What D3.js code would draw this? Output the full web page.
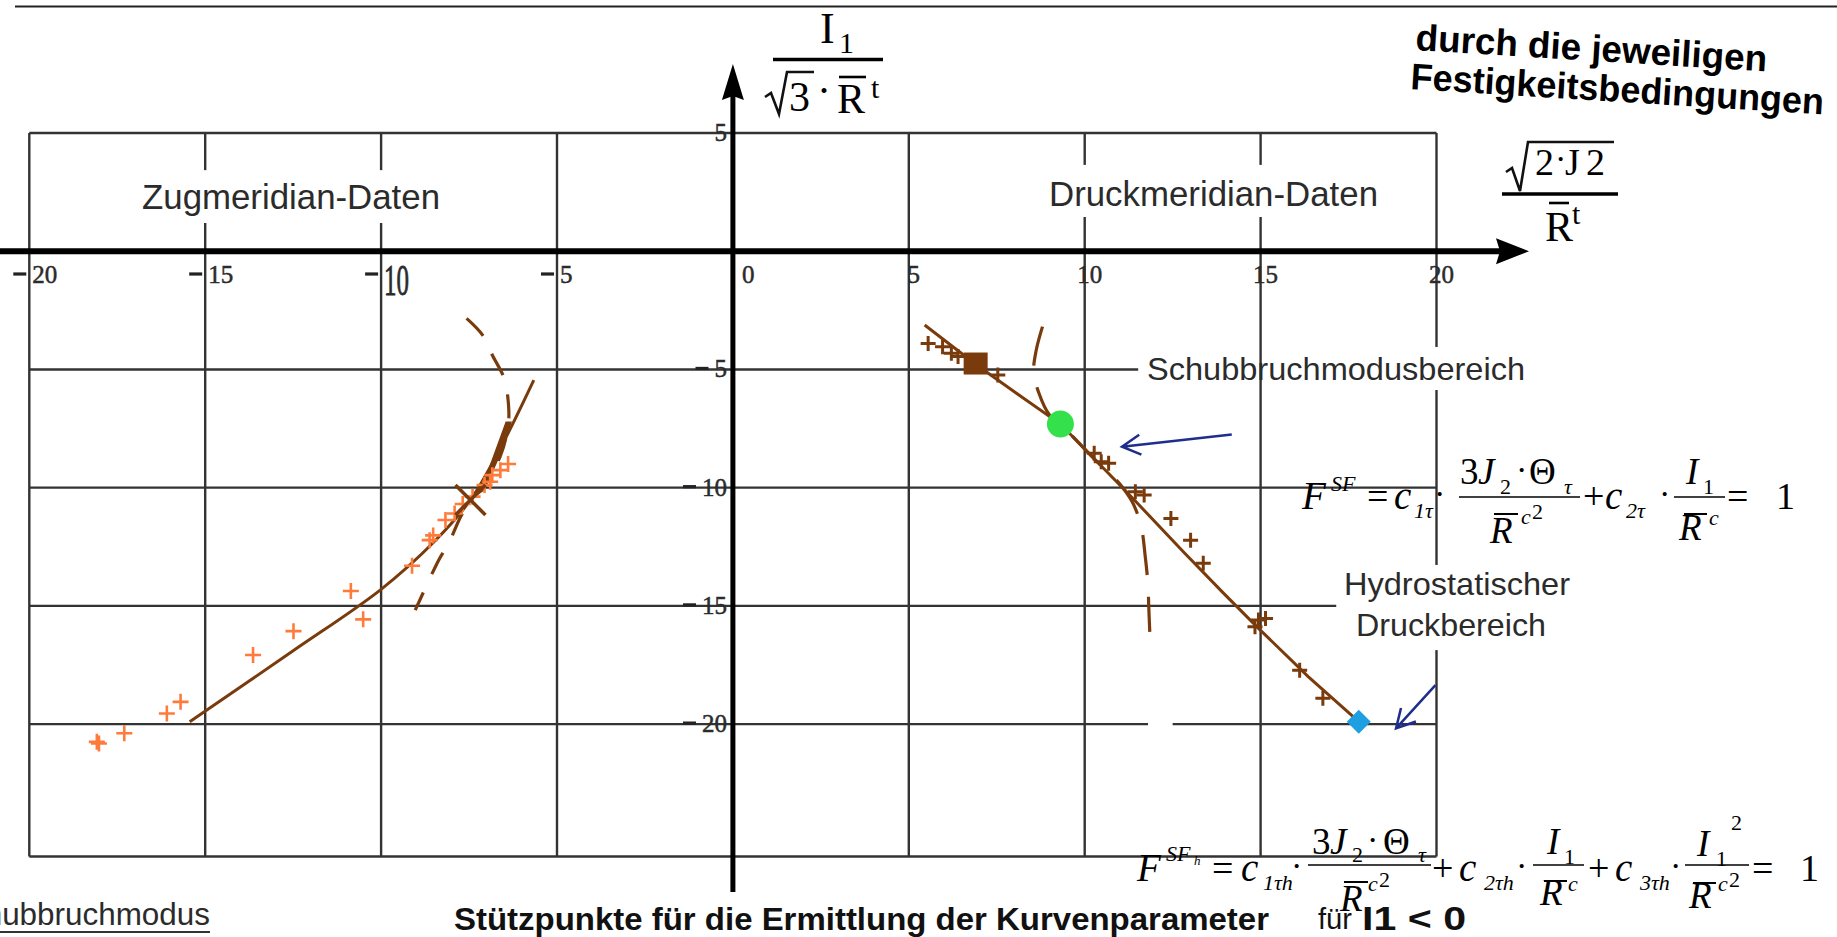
<!DOCTYPE html>
<html><head><meta charset="utf-8">
<script src="https://cdn.jsdelivr.net/npm/d3@7"></script>
<style>
body{margin:0;background:#fff}
svg{display:block}
text{fill:#2b2b2b}
</style>
</head><body>
<svg id="chart" width="1837" height="937"></svg>
<script>
// ---- axis ticks ----
const xTicks = [-20, -15, -10, -5, 0, 5, 10, 15, 20];
const yTicks = [5, -5, -10, -15, -20];
const yBottom = -25.6;

// ---- Zugmeridian (tension meridian) ----
const zugPoints = [
  [-18.08,-20.75],[-18.02,-20.82],[-17.30,-20.39],[-16.09,-19.55],[-15.70,-19.06],
  [-13.64,-17.08],[-12.49,-16.07],[-10.51,-15.57],[-10.86,-14.37],[-9.12,-13.30],
  [-8.62,-12.22],[-8.52,-12.02],[-8.17,-11.37],[-7.91,-11.09],[-7.68,-10.69],
  [-7.40,-10.38],[-7.06,-9.89],[-6.90,-9.75],[-6.84,-9.47],[-6.61,-9.26],[-6.39,-9.00]
];
const zugCurve = [
  [-15.44,-19.9],[-12.5,-16.9],[-10.0,-14.3],[-8.5,-12.3],[-7.46,-10.52],[-6.6,-8.3],[-5.66,-5.45]
];
const zugBoundary = [
  [-7.57,-2.84],[-7.12,-3.54],[-6.84,-4.39],[-6.50,-5.38],[-6.40,-6.15],[-6.38,-7.28],
  [-6.62,-8.70],[-7.05,-9.80],[-7.46,-10.52],[-7.74,-11.23],[-8.08,-12.36],[-8.36,-13.06],[-9.03,-15.18]
];
const zugWedge = [[-6.28,-7.2],[-6.46,-7.2],[-6.95,-9.2],[-7.32,-10.4],[-7.05,-10.1],[-6.6,-8.6]];
const zugCross = [[-7.46,-10.52]];

// ---- Druckmeridian (compression meridian) ----
const druckPoints = [
  [5.55,-3.90],[5.96,-4.04],[6.21,-4.32],[6.40,-4.45],[7.53,-5.24],[10.27,-8.55],
  [10.47,-8.90],[10.68,-8.97],[11.44,-10.17],[11.69,-10.31],[12.45,-11.30],[13.01,-12.22],
  [13.37,-13.20],[14.84,-15.88],[14.94,-15.60],[15.14,-15.53],[16.11,-17.72],[16.77,-18.91]
];
const druckCurve = [
  [5.45,-3.12],[6.9,-4.78],[8.1,-6.05],[9.31,-7.31],[10.27,-8.78],[11.29,-10.33],
  [12.81,-12.72],[13.93,-14.44],[14.94,-15.95],[16.36,-18.0],[17.79,-19.9]
];
const druckBoundary = [
  [8.80,-3.19],[8.62,-4.2],[8.55,-5.10],[8.70,-6.01],[9.0,-6.93],[9.31,-7.31],[10.27,-8.78],
  [11.0,-9.85],[11.35,-10.6],[11.6,-11.6],[11.72,-12.9],[11.8,-14.12],[11.82,-15.0],[11.85,-16.1]
];
const druckSquare = [[6.9,-4.75]];
const shearPoint = [[9.31,-7.31]];     // Schubbruchmodusbereich
const hydroPoint = [[17.79,-19.9]];    // hydrostatischer Druckbereich

// annotation arrows: [from, to]
const arrows = [
  [[14.18,-7.75],[11.06,-8.27]],
  [[19.97,-18.35],[18.85,-20.18]]
];

// grid segments (gaps where labels sit)
const vGrid = [
  {x:-20, segs:[[5,yBottom]]},
  {x:-15, segs:[[5,3.43],[1.19,yBottom]]},
  {x:-10, segs:[[5,3.43],[1.19,yBottom]]},
  {x:-5,  segs:[[5,yBottom]]},
  {x:5,   segs:[[5,yBottom]]},
  {x:10,  segs:[[5,3.65],[1.45,yBottom]]},
  {x:15,  segs:[[5,3.65],[1.45,yBottom]]},
  {x:20,  segs:[[5,-4.05],[-5.87,-13.27],[-16.87,yBottom]]}
];
const hGrid = [
  {y:5,   segs:[[-20,20]]},
  {y:-5,  segs:[[-20,11.52]]},
  {y:-10, segs:[[-20,20]]},
  {y:-15, segs:[[-20,17.15]]},
  {y:-20, segs:[[-20,11.8],[12.5,20]]},
  {y:yBottom, segs:[[-20,20]]}
];

const BROWN = "#7a3b0c", ORANGE = "#ff7b3b", NAVY = "#1f2d8c";

const svg = d3.select("#chart");
const x = d3.scaleLinear().domain([-20, 20]).range([29.3, 1436.5]);
const y = d3.scaleLinear().domain([yBottom, 5]).range([856.5, 133]);

// top rule
svg.append("line").attr("x1",15).attr("x2",1837).attr("y1",6.5).attr("y2",6.5)
  .attr("stroke","#222").attr("stroke-width",2);

// ---- grid ----
const grid = svg.append("g").attr("stroke","#333").attr("stroke-width",2.4);
vGrid.forEach(v => v.segs.forEach(s => grid.append("line")
  .attr("x1",x(v.x)).attr("x2",x(v.x)).attr("y1",y(s[0])).attr("y2",y(s[1]))));
hGrid.forEach(h => h.segs.forEach(s => grid.append("line")
  .attr("y1",y(h.y)).attr("y2",y(h.y)).attr("x1",x(s[0])).attr("x2",x(s[1]))));

// ---- axes ----
svg.append("line").attr("x1",0).attr("x2",1500).attr("y1",y(0)).attr("y2",y(0))
  .attr("stroke","#000").attr("stroke-width",6);
svg.append("path").attr("d",`M1529,${y(0)} L1496,${y(0)-13} L1500,${y(0)} L1496,${y(0)+13}Z`).attr("fill","#000");
svg.append("line").attr("x1",x(0)).attr("x2",x(0)).attr("y1",892).attr("y2",95)
  .attr("stroke","#000").attr("stroke-width",5);
svg.append("path").attr("d",`M${x(0)},64 L${x(0)-11},100 L${x(0)},96 L${x(0)+11},100Z`).attr("fill","#000");

// tick labels
const tickFont = "'Liberation Serif','Times New Roman',serif";
const xl = svg.append("g").attr("font-family",tickFont).attr("font-size",25)
  .attr("stroke","#2b2b2b").attr("stroke-width",0.5);
function minus(g, xEnd, yMid) {
  g.append("line").attr("x1",xEnd-13).attr("x2",xEnd).attr("y1",yMid).attr("y2",yMid)
    .attr("stroke","#222").attr("stroke-width",3.2);
}
xTicks.forEach(v => {
  const px = x(v);
  const digits = String(Math.abs(v));
  if (v < 0) {
    minus(xl, px-3, 274);
    const t = xl.append("text").attr("x",px+3).attr("y",283).text(digits);
    if (v === -10) t.attr("transform",`translate(0,267) scale(1,1.75) translate(0,-267)`);
  } else if (v === 0) {
    xl.append("text").attr("x",px+9).attr("y",283).text(digits);
  } else {
    xl.append("text").attr("x",px+5).attr("y",283).attr("text-anchor","middle").text(digits);
  }
});
const yl = svg.append("g").attr("font-family",tickFont).attr("font-size",25).attr("text-anchor","end")
  .attr("stroke","#2b2b2b").attr("stroke-width",0.5);
yTicks.forEach(v => {
  const t = yl.append("text").attr("x",727).attr("y",y(v)+8).text(String(Math.abs(v)));
  if (v < 0) {
    const w = Math.abs(v) >= 10 ? 25 : 12.5;
    minus(yl, 727 - w - 6, y(v) - 1);
  }
});

// ---- curves ----
const line = d3.line().x(d => x(d[0])).y(d => y(d[1]));
const smooth = d3.line().x(d => x(d[0])).y(d => y(d[1])).curve(d3.curveCatmullRom.alpha(0.5));

svg.append("path").attr("d",smooth(zugBoundary)).attr("fill","none").attr("stroke",BROWN)
  .attr("stroke-width",3.2).attr("stroke-dasharray","24,20");
svg.append("path").attr("d",line(zugWedge)+"Z").attr("fill",BROWN);
svg.append("path").attr("d",smooth(zugCurve)).attr("fill","none").attr("stroke",BROWN).attr("stroke-width",3);

svg.append("path").attr("d",smooth(druckBoundary)).attr("fill","none").attr("stroke",BROWN)
  .attr("stroke-width",3.2).attr("stroke-dasharray","40,22");
svg.append("path").attr("d",line(druckCurve)).attr("fill","none").attr("stroke",BROWN).attr("stroke-width",3);

// ---- markers ----
const plus = (d, s) => `M${x(d[0])-s},${y(d[1])}h${2*s}M${x(d[0])},${y(d[1])-s}v${2*s}`;
svg.append("g").selectAll("path").data(zugPoints).join("path")
  .attr("d", d => plus(d, 8)).attr("stroke",ORANGE).attr("stroke-width",2.6).attr("fill","none");
svg.append("g").selectAll("path").data(druckPoints).join("path")
  .attr("d", d => plus(d, 7.5)).attr("stroke",BROWN).attr("stroke-width",3).attr("fill","none");

svg.append("g").selectAll("path").data(zugCross).join("path")
  .attr("d", d => `M${x(d[0])-15},${y(d[1])-15}L${x(d[0])+15},${y(d[1])+15}M${x(d[0])-15},${y(d[1])+15}L${x(d[0])+15},${y(d[1])-15}`)
  .attr("stroke",BROWN).attr("stroke-width",3.5);

svg.append("g").selectAll("rect").data(druckSquare).join("rect")
  .attr("x", d => x(d[0])-12).attr("y", d => y(d[1])-11).attr("width",24).attr("height",22).attr("fill",BROWN);

svg.append("g").selectAll("circle").data(shearPoint).join("circle")
  .attr("cx", d => x(d[0])).attr("cy", d => y(d[1])).attr("r",13.5).attr("fill","#35e04d");

svg.append("g").selectAll("path").data(hydroPoint).join("path")
  .attr("d", d => `M${x(d[0])},${y(d[1])-12}L${x(d[0])+12},${y(d[1])}L${x(d[0])},${y(d[1])+12}L${x(d[0])-12},${y(d[1])}Z`)
  .attr("fill","#1e9fe2");

// ---- annotation arrows ----
arrows.forEach(([a, b]) => {
  const x1 = x(a[0]), y1 = y(a[1]), x2 = x(b[0]), y2 = y(b[1]);
  const ang = Math.atan2(y1 - y2, x1 - x2), L = 21, sp = 0.5;
  svg.append("path")
    .attr("d", `M${x1},${y1}L${x2},${y2}M${x2+L*Math.cos(ang-sp)},${y2+L*Math.sin(ang-sp)}L${x2},${y2}L${x2+L*Math.cos(ang+sp)},${y2+L*Math.sin(ang+sp)}`)
    .attr("fill","none").attr("stroke",NAVY).attr("stroke-width",2.5);
});

// ---- text labels ----
const sans = "'Liberation Sans',Arial,sans-serif";
function label(str, px, py, size, opts = {}) {
  const t = svg.append("text").attr("x",px).attr("y",py).attr("font-family",sans)
    .attr("font-size",size).text(str);
  if (opts.anchor) t.attr("text-anchor",opts.anchor);
  if (opts.weight) t.attr("font-weight",opts.weight);
  if (opts.len) t.attr("textLength",opts.len).attr("lengthAdjust","spacingAndGlyphs");
  if (opts.fill) t.style("fill",opts.fill);
  if (opts.rotate) t.attr("transform",`rotate(${opts.rotate},${px},${py})`);
  return t;
}
label("Zugmeridian-Daten", 142, 209, 35, {len:298});
label("Druckmeridian-Daten", 1049, 206, 35, {len:329});
label("Schubbruchmodusbereich", 1147, 380, 32, {len:378});
label("Hydrostatischer", 1457, 595, 32, {anchor:"middle", len:226});
label("Druckbereich", 1451, 636, 32, {anchor:"middle", len:190});

label("durch die jeweiligen", 1415, 50, 37, {weight:"bold", fill:"#000", rotate:3.5, len:352});
label("Festigkeitsbedingungen", 1410, 89, 37, {weight:"bold", fill:"#000", rotate:3.5, len:414});

label("Stützpunkte für die Ermittlung der Kurvenparameter", 454, 930, 32, {weight:"bold", fill:"#111", len:815});
label("für", 1318, 929, 29, {fill:"#111", len:34});
label("I1 < 0", 1362, 930, 34, {weight:"bold", fill:"#111", len:104});
label("Schubbruchmodus", 210, 925, 32, {anchor:"end", len:262});
svg.append("line").attr("x1",0).attr("x2",210).attr("y1",932).attr("y2",932)
  .attr("stroke","#333").attr("stroke-width",2);

// ---- formula typesetting ----
const serif = "'Liberation Serif','Times New Roman',serif";
function m(str, px, py, size, italic) {
  return svg.append("text").attr("x",px).attr("y",py).attr("font-family",serif)
    .attr("font-size",size).attr("font-style", italic ? "italic" : "normal")
    .style("fill","#000").text(str);
}
function bar(x1, x2, py, w) {
  svg.append("line").attr("x1",x1).attr("x2",x2).attr("y1",py).attr("y2",py)
    .attr("stroke","#000").attr("stroke-width", w || 1.6);
}
function radical(pts, w) {
  svg.append("path").attr("d", d3.line()(pts)).attr("fill","none")
    .attr("stroke","#111").attr("stroke-width", w).attr("stroke-linejoin","miter");
}

// y-axis title: I1 / (sqrt(3) * Rbar^t)
m("I", 820, 43, 44); m("1", 839, 53, 30);
bar(773, 883, 59.5, 3.5);
radical([[765,97],[771,93],[779,114],[787,72],[814,72]], 2.6);
m("3", 789, 111, 42);
m("\u00B7", 817, 105, 42); bar(839, 866, 77, 2.6); m("R", 837, 113, 42); m("t", 871, 98, 30);

// x-axis title: sqrt(2*J2) / Rbar^t
radical([[1506,172],[1512,168],[1520,191],[1528,142],[1614,142]], 2.6);
m("2", 1535, 175, 38); m("\u00B7", 1555, 170, 34); m("J", 1565, 175, 38); m("2", 1586, 175, 38);
bar(1502, 1618, 194, 3.5);
bar(1549, 1569, 203, 2.6); m("R", 1545, 241, 42); m("t", 1572, 224, 30);

// F^SF = c1t * 3J2*Theta_t / Rc^2 + c2t * I1 / Rc = 1
m("F", 1302, 509, 39, true); m("SF", 1331, 491, 22, true);
m("=", 1367, 509, 38); m("c", 1394, 509, 39, true); m("1\u03C4", 1414, 518, 22, true);
m("\u00B7", 1434, 505, 34);
bar(1459, 1580, 497);
m("3", 1460, 484, 37); m("J", 1478, 484, 37, true); m("2", 1500, 494, 22);
m("\u00B7", 1516, 481, 34); m("\u0398", 1529, 484, 37); m("\u03C4", 1564, 494, 22, true);
bar(1494, 1518, 514, 2); m("R", 1490, 543, 37, true); m("c", 1521, 524, 22, true); m("2", 1532, 519, 22);
m("+", 1583, 509, 38); m("c", 1605, 509, 39, true); m("2\u03C4", 1626, 518, 22, true);
m("\u00B7", 1659, 505, 34);
bar(1674, 1725, 497);
m("I", 1686, 484, 37, true); m("1", 1703, 494, 22);
bar(1684, 1707, 514, 2); m("R", 1679, 540, 37, true); m("c", 1709, 525, 22, true);
m("=", 1727, 509, 38); m("1", 1776, 509, 38);

// F^SFh = c1th * 3J2*Theta_t / Rc^2 + c2th * I1 / Rc + c3th * I1^2 / Rc^2 = 1
m("F", 1137, 881, 39, true); m("SF", 1166, 861, 22, true); m("h", 1194, 865, 13, true);
m("=", 1212, 881, 38); m("c", 1241, 881, 39, true); m("1\u03C4h", 1263, 890, 22, true);
m("\u00B7", 1291, 877, 34);
bar(1308, 1431, 865);
m("3", 1312, 854, 37); m("J", 1330, 854, 37, true); m("2", 1352, 862, 22);
m("\u00B7", 1367, 851, 34); m("\u0398", 1383, 854, 37); m("\u03C4", 1418, 862, 22, true);
bar(1344, 1368, 882, 2); m("R", 1340, 911, 37, true); m("c", 1368, 891, 22, true); m("2", 1379, 887, 22);
m("+", 1432, 881, 38); m("c", 1459, 881, 39, true); m("2\u03C4h", 1484, 890, 22, true);
m("\u00B7", 1516, 877, 34);
bar(1533, 1584, 865);
m("I", 1547, 854, 37, true); m("1", 1564, 864, 22);
bar(1544, 1567, 881, 2); m("R", 1540, 905, 37, true); m("c", 1568, 891, 22, true);
m("+", 1588, 881, 38); m("c", 1615, 881, 39, true); m("3\u03C4h", 1640, 890, 22, true);
m("\u00B7", 1670, 877, 34);
bar(1685, 1749, 865);
m("I", 1697, 856, 37, true); m("1", 1716, 866, 22); m("2", 1731, 830, 22);
bar(1693, 1716, 883, 2); m("R", 1689, 908, 37, true); m("c", 1718, 891, 22, true); m("2", 1729, 887, 22);
m("=", 1752, 881, 38); m("1", 1800, 881, 38);
</script>
</body></html>
